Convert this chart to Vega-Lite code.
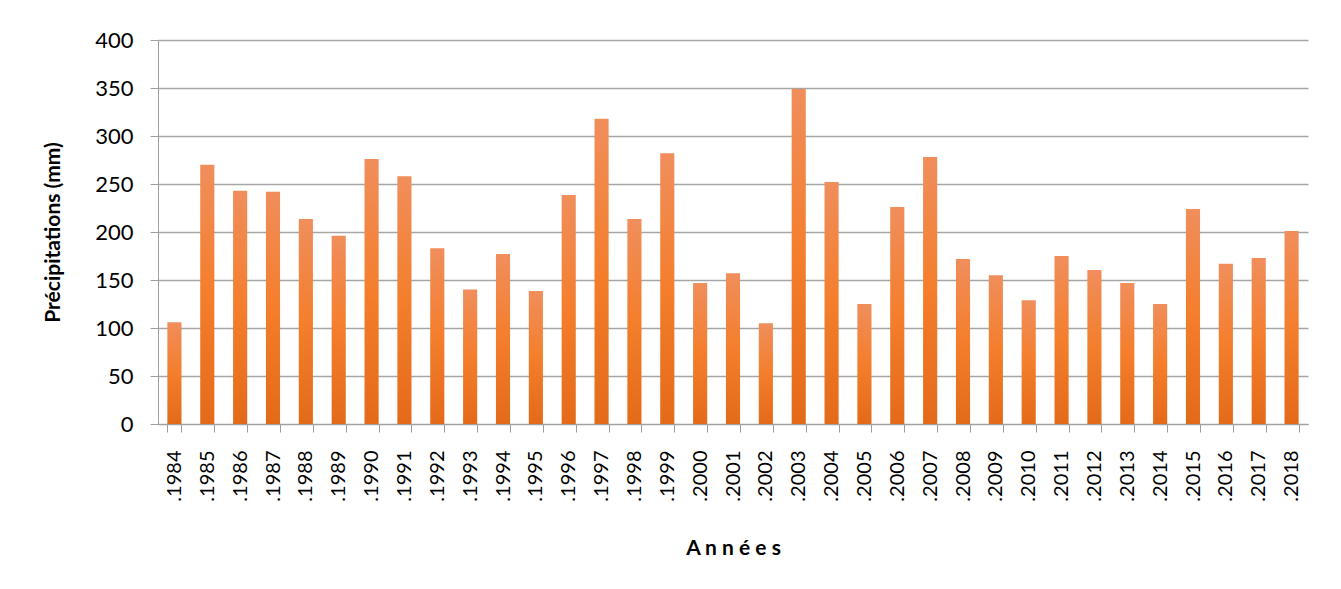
{
  "$schema": "https://vega.github.io/schema/vega-lite/v6.json",
  "autosize": "none",
  "padding": {"left": 158, "top": 40, "right": 33, "bottom": 165},
  "width": 1150,
  "height": 384,
  "background": "white",
  "data": {"values": [
    {"annee": ".1984", "p": 106},
    {"annee": ".1985", "p": 270},
    {"annee": ".1986", "p": 243},
    {"annee": ".1987", "p": 242},
    {"annee": ".1988", "p": 213.5},
    {"annee": ".1989", "p": 196},
    {"annee": ".1990", "p": 276},
    {"annee": ".1991", "p": 258},
    {"annee": ".1992", "p": 183},
    {"annee": ".1993", "p": 140},
    {"annee": ".1994", "p": 177},
    {"annee": ".1995", "p": 138.5},
    {"annee": ".1996", "p": 238.5},
    {"annee": ".1997", "p": 318},
    {"annee": ".1998", "p": 213.5},
    {"annee": ".1999", "p": 282},
    {"annee": ".2000", "p": 147},
    {"annee": ".2001", "p": 157},
    {"annee": ".2002", "p": 105},
    {"annee": ".2003", "p": 349},
    {"annee": ".2004", "p": 252},
    {"annee": ".2005", "p": 125},
    {"annee": ".2006", "p": 226},
    {"annee": ".2007", "p": 278},
    {"annee": ".2008", "p": 172},
    {"annee": ".2009", "p": 155},
    {"annee": ".2010", "p": 129},
    {"annee": ".2011", "p": 175},
    {"annee": ".2012", "p": 160.5},
    {"annee": ".2013", "p": 147},
    {"annee": ".2014", "p": 125},
    {"annee": ".2015", "p": 224},
    {"annee": ".2016", "p": 167},
    {"annee": ".2017", "p": 173},
    {"annee": ".2018", "p": 201}
  ]},
  "mark": {
    "type": "bar",
    "color": {
      "gradient": "linear",
      "x1": 0, "y1": 0, "x2": 0, "y2": 1,
      "stops": [
        {"offset": 0, "color": "#F08E5C"},
        {"offset": 0.5, "color": "#F47E2C"},
        {"offset": 1, "color": "#E36A18"}
      ]
    }
  },
  "encoding": {
    "x": {
      "field": "annee",
      "type": "nominal",
      "sort": null,
      "scale": {"paddingInner": 0.57, "paddingOuter": 0.285},
      "axis": {
        "title": "A n n é e s",
        "titleFont": "Lato",
        "titleFontSize": 21,
        "titleFontWeight": "bold",
        "titleColor": "#000000",
        "titlePadding": 36,
        "labelFont": "Lato",
        "labelFontSize": 20,
        "labelColor": "#000000",
        "labelAngle": -90,
        "labelPadding": 18,
        "tickBand": "extent",
        "tickSize": 8,
        "tickColor": "#A0A0A0",
        "domainColor": "#A0A0A0",
        "grid": false
      }
    },
    "y": {
      "field": "p",
      "type": "quantitative",
      "scale": {"domain": [0, 400], "nice": false},
      "axis": {
        "title": "Précipitations (mm)",
        "titleFont": "Lato",
        "titleFontSize": 21,
        "titleFontWeight": "bold",
        "titleColor": "#000000",
        "titlePadding": 31,
        "values": [0, 50, 100, 150, 200, 250, 300, 350, 400],
        "labelFont": "Lato",
        "labelFontSize": 22,
        "labelColor": "#000000",
        "labelPadding": 17,
        "tickSize": 8,
        "tickColor": "#A0A0A0",
        "domainColor": "#A0A0A0",
        "gridColor": "#A6A6A6",
        "gridWidth": 1.5
      }
    }
  },
  "config": {
    "view": {"stroke": null}
  }
}
